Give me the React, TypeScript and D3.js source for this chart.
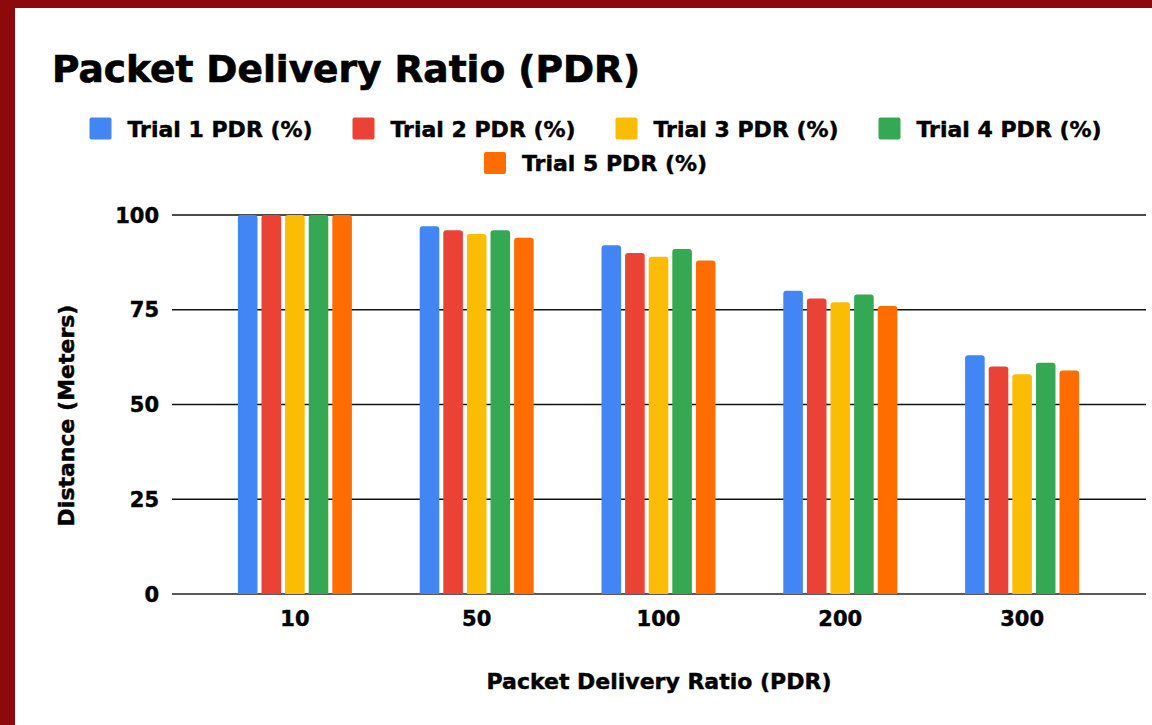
import * as d3 from "d3";
import React from "react";

const CATEGORIES = ["10", "50", "100", "200", "300"];
const SERIES = [
  "Trial 1 PDR (%)",
  "Trial 2 PDR (%)",
  "Trial 3 PDR (%)",
  "Trial 4 PDR (%)",
  "Trial 5 PDR (%)",
];
const TRIAL1 = [100, 97, 92, 80, 63];
const TRIAL2 = [100, 96, 90, 78, 60];
const TRIAL3 = [100, 95, 89, 77, 58];
const TRIAL4 = [100, 96, 91, 79, 61];
const TRIAL5 = [100, 94, 88, 76, 59];
const VALUES = [TRIAL1, TRIAL2, TRIAL3, TRIAL4, TRIAL5];
const COLORS = ["#4285F4", "#EA4335", "#FBBC04", "#34A853", "#FF6D01"];
const Y_TICKS = [0, 25, 50, 75, 100];

const FONT = "'DejaVu Sans', Verdana, sans-serif";
const INK = "#000";
// heavier text, the reference renders a very dark bold
const textStyle = {
  fontFamily: FONT,
  fontWeight: "bold" as const,
  fill: INK,
  stroke: INK,
  strokeWidth: 0.45,
};

// bar with rounded top corners only
function barPath(x: number, y: number, w: number, h: number, r: number) {
  const rr = Math.min(r, w / 2, h);
  return `M${x},${y + h}V${y + rr}Q${x},${y} ${x + rr},${y}H${x + w - rr}Q${x + w},${y} ${x + w},${y + rr}V${y + h}Z`;
}

export default function App() {
  const width = 1152;
  const height = 725;

  // plot area
  const grid = { left: 172, right: 1146 };
  const bandRange: [number, number] = [204, 1113];

  const y = d3.scaleLinear().domain([0, 100]).range([594, 215]);
  const x0 = d3.scaleBand<string>().domain(CATEGORIES).range(bandRange).padding(0);
  const groupW = 114;
  const x1 = d3
    .scaleBand<number>()
    .domain(d3.range(SERIES.length))
    .range([(x0.bandwidth() - groupW) / 2, (x0.bandwidth() + groupW) / 2])
    .paddingInner(0.17)
    .paddingOuter(0);

  // legend layout
  const legend = { center: 598, step: 263, sq: 22, gap: 16, rows: [128.5, 163] };
  const rowItems = [[0, 1, 2, 3], [4]];

  return (
    <svg
      width={width}
      height={height}
      style={{ position: "absolute", left: 0, top: 0, display: "block" }}
    >
      {/* frame */}
      <rect x={0} y={0} width={width} height={height} fill="#8C0A0C" />
      <rect x={15} y={8} width={width - 15} height={height - 8} fill="#fff" />

      {/* title */}
      <text x={52} y={82} fontSize={37.5} {...textStyle} strokeWidth={0.7}>
        Packet Delivery Ratio (PDR)
      </text>

      {/* legend */}
      {rowItems.map((items, ri) => {
        const rowW = items.length * legend.step - 35;
        const start = legend.center - rowW / 2;
        const cy = legend.rows[ri];
        return items.map((si, k) => {
          const lx = start + k * legend.step;
          return (
            <g key={si}>
              <rect
                x={lx}
                y={cy - legend.sq / 2}
                width={legend.sq}
                height={legend.sq}
                rx={2}
                fill={COLORS[si]}
              />
              <text x={lx + legend.sq + legend.gap} y={cy + 8} fontSize={22} {...textStyle}>
                {SERIES[si]}
              </text>
            </g>
          );
        });
      })}

      {/* gridlines + y ticks */}
      {Y_TICKS.map((t) => (
        <g key={t}>
          <line
            x1={grid.left}
            x2={grid.right}
            y1={y(t)}
            y2={y(t)}
            stroke={t === 0 ? "#222" : "#111"}
            strokeWidth={1.6}
          />
          <text x={159} y={y(t) + 7.5} textAnchor="end" fontSize={21} {...textStyle}>
            {t}
          </text>
        </g>
      ))}

      {/* bars */}
      {CATEGORIES.map((c, ci) => (
        <g key={c} transform={`translate(${x0(c)},0)`}>
          {VALUES.map((vals, si) => {
            const bx = x1(si) as number;
            const by = y(vals[ci]);
            return (
              <path
                key={si}
                d={barPath(bx, by, x1.bandwidth(), y(0) - by, 3)}
                fill={COLORS[si]}
              />
            );
          })}
          <text x={x0.bandwidth() / 2} y={626} textAnchor="middle" fontSize={21} {...textStyle}>
            {c}
          </text>
        </g>
      ))}

      {/* axis titles */}
      <text
        x={(grid.left + grid.right) / 2}
        y={689}
        textAnchor="middle"
        fontSize={22}
        {...textStyle}
      >
        Packet Delivery Ratio (PDR)
      </text>
      <text
        transform={`translate(74,${(y(0) + y(100)) / 2 + 11}) rotate(-90)`}
        textAnchor="middle"
        fontSize={22}
        {...textStyle}
      >
        Distance (Meters)
      </text>
    </svg>
  );
}
